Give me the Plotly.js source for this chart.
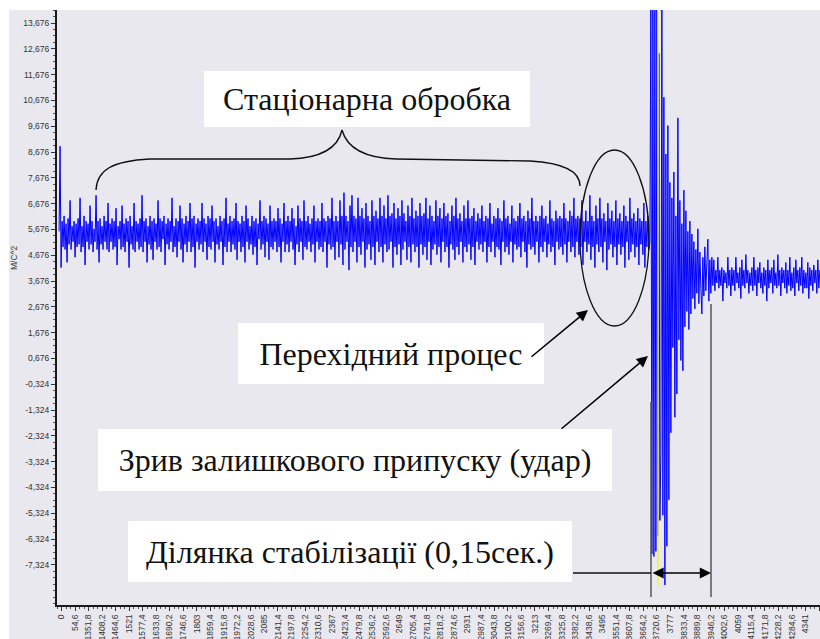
<!DOCTYPE html>
<html>
<head>
<meta charset="utf-8">
<script src="https://cdn.plot.ly/plotly-3.0.1.min.js"></script>
<style>
html,body{margin:0;padding:0;background:#ffffff;}
#chart{width:820px;height:639px;}
</style>
</head>
<body>
<div id="chart"></div>
<script>
// ---------- DATA ----------
const xTickLabels = ['0','54,6','1351,8','1408,2','1464,6','1521','1577,4','1633,8','1690,2','1746,6',
  '1803','1859,4','1915,8','1972,2','2028,6','2085','2141,4','2197,8','2254,2','2310,6',
  '2367','2423,4','2479,8','2536,2','2592,6','2649','2705,4','2761,8','2818,2','2874,6',
  '2931','2987,4','3043,8','3100,2','3156,6','3213','3269,4','3325,8','3382,2','3438,6',
  '3495','3551,4','3607,8','3664,2','3720,6','3777','3833,4','3889,8','3946,2','4002,6',
  '4059','4115,4','4171,8','4228,2','4284,6','4341','4397,4'];

const yTickValues = [13.676,12.676,11.676,10.676,9.676,8.676,7.676,6.676,5.676,4.676,3.676,2.676,
  1.676,0.676,-0.324,-1.324,-2.324,-3.324,-4.324,-5.324,-6.324,-7.324];
const yTickLabels = ['13,676','12,676','11,676','10,676','9,676','8,676','7,676','6,676','5,676','4,676',
  '3,676','2,676','1,676','0,676','-0,324','-1,324','-2,324','-3,324','-4,324','-5,324','-6,324','-7,324'];
const yUnit = 'М/С^2';

// stationary machining + transient process (m/s^2)
const stationary = [
5.6,8.9,4.2,6.0,5.0,6.2,4.9,5.9,4.4,6.1,5.1,6.8,4.9,5.8,5.2,6.0,4.6,5.9,5.0,6.1,
5.1,6.9,4.8,5.8,5.0,6.2,4.3,6.0,5.2,5.9,4.9,6.6,5.1,6.0,4.8,5.7,5.2,7.0,4.9,6.0,
4.4,6.1,5.1,5.8,4.9,6.2,5.2,6.0,4.9,6.7,4.8,5.9,5.2,6.1,4.9,6.0,5.0,6.5,4.3,5.8,
5.3,6.0,4.9,6.6,5.0,5.9,4.8,6.1,5.2,6.0,4.2,6.2,5.1,5.8,4.9,6.7,4.8,6.0,5.2,5.9,
4.9,6.1,5.0,7.0,4.8,6.0,5.2,6.1,4.4,5.8,5.1,6.2,4.9,6.0,4.5,6.1,5.2,5.9,4.9,6.8,
5.0,6.1,4.8,6.0,5.3,6.2,4.3,5.9,5.1,6.1,4.9,6.0,5.2,6.9,4.8,5.8,5.0,6.1,4.6,6.0,
5.2,6.6,4.9,6.1,4.4,5.9,5.1,6.2,4.8,6.0,5.2,6.7,4.8,6.1,5.0,6.2,4.2,5.9,5.2,6.1,
4.9,6.0,5.1,6.7,4.8,6.1,5.2,5.9,4.5,6.2,5.0,6.1,4.9,6.6,5.2,6.0,4.4,6.1,5.1,5.8,
4.9,6.2,5.2,6.0,4.3,6.1,5.0,6.9,4.8,5.9,5.2,6.2,4.8,6.0,5.1,6.1,4.9,6.7,4.5,6.0,
5.2,5.9,4.8,6.2,5.0,6.0,4.4,6.6,5.2,6.1,4.9,5.8,5.1,6.2,4.7,6.0,5.0,6.1,4.3,5.9,
5.3,6.8,4.9,6.0,5.1,6.2,4.6,6.1,5.2,5.9,4.5,6.6,5.0,6.0,4.9,6.1,5.2,6.0,4.8,6.5,
5.0,6.1,4.4,5.9,5.2,6.7,4.8,6.0,5.1,6.2,4.8,6.0,5.2,6.5,4.9,6.1,4.3,5.8,5.1,6.6,
4.8,6.1,5.2,6.0,4.5,6.8,5.0,6.0,4.9,6.2,5.2,5.9,4.8,6.1,5.1,6.6,4.4,6.0,5.2,6.1,
4.9,6.0,5.0,6.7,4.8,6.1,5.2,6.0,4.2,6.2,5.1,6.1,4.9,6.9,5.0,6.0,4.5,6.2,5.2,6.0,
4.6,6.8,5.1,6.2,4.3,7.1,4.9,6.2,5.2,6.0,4.1,6.6,5.0,7.0,4.8,6.2,5.2,6.1,4.4,6.9,
5.0,6.2,4.7,6.5,5.2,6.1,4.2,6.7,4.9,6.2,5.1,6.0,4.5,6.8,5.0,6.2,4.3,6.4,5.2,6.1,
4.8,6.9,5.0,6.2,4.4,6.6,5.1,6.1,4.8,7.0,4.9,6.2,5.2,6.3,4.2,6.7,5.0,6.1,4.7,6.5,
5.1,6.2,4.3,6.8,4.9,6.3,5.2,6.0,4.5,6.6,5.0,6.2,4.4,6.9,5.1,6.1,4.8,6.4,5.0,6.2,
4.2,6.7,5.1,6.2,4.7,6.3,5.0,6.9,4.5,6.1,5.2,6.6,4.3,6.2,4.9,6.0,5.1,6.8,4.7,6.2,
5.0,6.5,4.4,6.1,5.2,6.7,4.8,6.2,5.0,6.3,4.2,6.0,5.1,6.6,4.9,6.2,4.5,6.9,5.0,6.1,
4.7,6.3,5.2,6.0,4.4,6.6,5.0,6.1,4.8,6.8,5.1,6.1,4.5,6.2,5.0,6.5,4.3,6.0,5.2,6.3,
4.9,6.1,5.1,6.6,4.8,6.0,5.2,6.2,4.4,6.1,5.0,6.7,4.8,5.9,5.2,6.2,4.6,6.1,5.0,6.5,
4.9,6.1,4.3,6.0,5.2,6.8,4.8,6.1,5.0,6.2,4.7,5.9,5.2,6.6,4.4,6.1,5.1,6.0,4.9,6.2,
5.0,6.7,4.6,6.1,5.2,6.2,4.8,6.0,4.2,6.4,5.1,6.1,4.9,6.9,5.0,6.0,4.7,6.2,5.2,6.0,
4.4,6.2,5.0,6.6,4.8,6.1,5.2,6.2,4.6,5.9,5.1,6.8,4.8,6.1,5.0,6.0,4.3,6.4,5.2,6.1,
4.9,6.2,5.0,6.1,4.7,6.7,5.1,6.1,4.4,6.0,5.2,6.4,4.8,6.2,5.0,6.9,4.6,6.1,5.2,6.2,
4.7,6.1,5.0,6.8,4.3,6.0,5.2,6.4,4.8,6.0,5.1,7.0,4.5,6.2,5.0,6.0,4.2,6.6,5.1,6.1,
4.8,6.9,5.0,6.1,4.4,6.3,5.2,6.0,4.1,6.7,4.9,6.1,5.1,6.4,4.6,6.0,5.0,6.8,4.3,6.1,
5.1,6.3,4.7,6.0,5.0,6.6,4.2,6.2,5.2,6.0,4.5,6.9,4.8,6.1,5.1,6.3,4.6,6.0,5.0,6.5,
4.3,6.1,5.1,6.0,4.7,6.7,4.2,6.0,5.0,6.2,4.9
];

// impact (breaking of the residual allowance) and decay
const impact = [
5.2,14.6,-6.9,14.6,-7.0,14.6,-6.8,14.6,-6.2,12.5,
-5.6,-3.0,14.6,-5.4,10.8,-8.1,8.6,-6.6,9.7,-4.8,
7.5,-2.2,6.9,1.1,7.9,-1.6,6.2,-0.7,10.0,1.4,
6.8,0.6,5.9,0.2,7.2,1.9,6.4,2.5,5.6,1.8,
6.0,2.4,5.5,3.0,5.2,2.6,4.9,3.2,5.7,2.8,
4.8,3.4,2.4,4.6,3.1,5.0,3.3,4.4,5.3,2.9,
4.5,3.2,4.6
];

// stabilised machining after the impact
const settled = [
3.5,4.5,3.3,4.1,3.6,4.6,3.4,4.1,3.5,4.2,2.9,4.1,3.6,4.0,3.4,4.6,3.5,4.1,3.1,4.2,
3.5,4.1,3.3,4.6,3.6,4.0,3.4,4.2,3.0,4.5,3.5,4.1,3.4,4.7,3.6,4.1,3.2,4.0,3.5,4.2,
3.3,4.6,3.5,4.1,3.1,4.2,3.6,4.4,3.4,4.0,3.2,4.2,3.5,4.1,2.9,4.5,3.4,4.1,3.6,4.2,
3.2,4.5,3.5,4.0,3.4,4.7,3.5,4.1,3.1,4.2,3.6,4.1,3.4,4.4,3.2,4.1,3.5,4.6,3.3,4.0,
3.4,4.2,3.1,4.5,3.6,4.1,3.3,4.2,3.5,4.6,3.2,4.1,3.4,4.0,3.4,4.4,3.0,4.2,3.5,4.1,
3.3,4.3,3.6,4.1,3.2,4.5,3.4,4.1
];

const sampleStart = -0.18;   // in tick-slot units of the x axis
const sampleStep = 0.0739;
const cursorX = 44.1;        // yellow cursor marker
const cursorBottom = -8.1;

// ---------- BUILD ----------
const accel = stationary.concat(impact, settled);
const xs = accel.map((_, i) => sampleStart + i * sampleStep);

const W = 820, H = 639, ML = 57, MT = 10, MR = 0, MB = 34;
const PW = W - ML - MR, PH = H - MT - MB;
const px = p => (p - ML) / PW;           // pixel x -> paper
const py = p => (H - MB - p) / PH;       // pixel y -> paper
const P = (a, b) => px(a).toFixed(5) + ',' + py(b).toFixed(5);

const bg = '#e9e8ee';
const txtFont = {family: "'Liberation Serif', 'Times New Roman', serif", size: 32, color: '#111111'};

function box(text, x0, y0, x1, y1) {
  return {
    xref: 'paper', yref: 'paper', x: px((x0 + x1) / 2), y: py((y0 + y1) / 2),
    xanchor: 'center', yanchor: 'middle', text: text, showarrow: false,
    width: x1 - x0 - 2, height: y1 - y0 - 2, bgcolor: '#ffffff',
    borderpad: 0, borderwidth: 0, font: txtFont, align: 'center', valign: 'middle'
  };
}
function arrow(hx, hy, tx, ty, both) {
  return {
    xref: 'paper', yref: 'paper', x: px(hx), y: py(hy), ax: tx - hx, ay: ty - hy,
    axref: 'pixel', ayref: 'pixel', text: '', showarrow: true,
    arrowhead: 2, arrowsize: 1.4, arrowwidth: 1.6, arrowcolor: '#000000',
    standoff: 0, startstandoff: 0,
    arrowside: both ? 'end+start' : 'end', startarrowhead: 2, startarrowsize: 1.4
  };
}

const trace = {
  x: xs, y: accel, type: 'scatter', mode: 'lines',
  line: {color: '#0000ff', width: 1}, hoverinfo: 'skip'
};

const layout = {
  width: W, height: H,
  margin: {l: ML, r: MR, t: MT, b: MB, pad: 0},
  paper_bgcolor: bg, plot_bgcolor: bg,
  showlegend: false,
  font: {family: "'Liberation Sans', Arial, sans-serif", size: 8, color: '#333333'},
  xaxis: {
    range: [-0.333, 56.07], tickmode: 'array',
    tickvals: xTickLabels.map((_, i) => i), ticktext: xTickLabels,
    tickangle: -90, tickfont: {size: 8.5, color: '#333333'},
    ticks: 'outside', ticklen: 4, tickcolor: '#333333', tickwidth: 1,
    minor: {tickmode: 'linear', tick0: 0, dtick: 1/3, ticks: 'outside', ticklen: 2, tickcolor: '#555555', showgrid: false},
    showline: true, linecolor: '#1a1a1a', linewidth: 2, showgrid: false, zeroline: false, fixedrange: true
  },
  yaxis: {
    range: [-8.877, 14.18], tickmode: 'array', tickvals: yTickValues, ticktext: yTickLabels,
    tickfont: {size: 8.5, color: '#333333'},
    ticks: 'outside', ticklen: 4, tickcolor: '#333333', tickwidth: 1,
    minor: {tickmode: 'linear', tick0: 0.676, dtick: 0.25, ticks: 'outside', ticklen: 2, tickcolor: '#555555', showgrid: false},
    showline: true, linecolor: '#1a1a1a', linewidth: 2, showgrid: false, zeroline: false, fixedrange: true
  },
  shapes: [
    // white outer border (top & left)
    {type: 'rect', xref: 'paper', yref: 'paper', x0: px(0), x1: px(W), y0: py(MT), y1: py(0),
     fillcolor: '#ffffff', line: {width: 0}, layer: 'above'},
    {type: 'rect', xref: 'paper', yref: 'paper', x0: px(0), x1: px(9), y0: py(H), y1: py(0),
     fillcolor: '#ffffff', line: {width: 0}, layer: 'above'},
    // yellow cursor
    {type: 'line', xref: 'x', yref: 'y', x0: cursorX, x1: cursorX, y0: cursorBottom, y1: 14.18,
     line: {color: '#f2ef3a', width: 1.5}, layer: 'above'},
    // curly brace over the stationary part
    {type: 'path', xref: 'paper', yref: 'paper', layer: 'above',
     path: 'M' + P(96, 190) + ' C' + P(97, 170) + ' ' + P(112, 161) + ' ' + P(150, 159) +
           ' L' + P(290, 159) + ' C' + P(322, 158) + ' ' + P(338, 148) + ' ' + P(342, 130) +
           ' C' + P(347, 148) + ' ' + P(364, 158) + ' ' + P(396, 159) +
           ' L' + P(530, 161) + ' C' + P(566, 163) + ' ' + P(580, 172) + ' ' + P(580, 186),
     line: {color: '#111111', width: 1.4}},
    // ellipse around transient process
    {type: 'circle', xref: 'paper', yref: 'paper', layer: 'above',
     x0: px(580), x1: px(649), y0: py(326), y1: py(150),
     line: {color: '#111111', width: 1.3}},
    // stabilisation interval markers
    {type: 'line', xref: 'paper', yref: 'paper', layer: 'above',
     x0: px(651), x1: px(651), y0: py(402), y1: py(597), line: {color: '#555555', width: 1.5}},
    {type: 'line', xref: 'paper', yref: 'paper', layer: 'above',
     x0: px(711), x1: px(711), y0: py(304), y1: py(597), line: {color: '#555555', width: 1.5}},
    {type: 'line', xref: 'paper', yref: 'paper', layer: 'above',
     x0: px(573), x1: px(651), y0: py(573), y1: py(573), line: {color: '#111111', width: 1.4}}
  ],
  annotations: [
    box('Стаціонарна обробка', 203, 70, 531, 128),
    box('Перехідний процес', 237, 322, 545, 385),
    box('Зрив залишкового припуску (удар)', 97, 428, 613, 492),
    box('Ділянка стабілізації (0,15сек.)', 127, 520, 573, 583),
    arrow(588, 310, 530, 358, false),
    arrow(648, 356, 560, 430, false),
    arrow(711, 573, 651, 573, true),
    {xref: 'paper', yref: 'paper', x: px(14), y: py(258), xanchor: 'center', yanchor: 'middle',
     text: yUnit, textangle: -90, showarrow: false, font: {size: 8.5, color: '#333333'}}
  ]
};

Plotly.newPlot('chart', [trace], layout, {displayModeBar: false, staticPlot: true});
</script>
</body>
</html>
